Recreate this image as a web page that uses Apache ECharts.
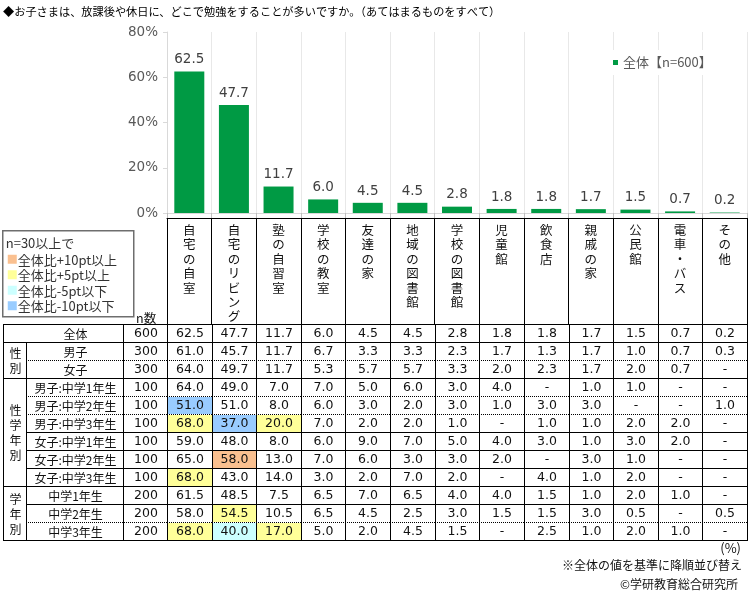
<!DOCTYPE html>
<html>
<head>
<meta charset="utf-8">
<title>放課後や休日に勉強する場所</title>
<script src="https://cdn.jsdelivr.net/npm/echarts@6/dist/echarts.min.js"></script>
<style>
html, body { margin: 0; padding: 0; background: #fff; }
#main { width: 750px; height: 602px; }
</style>
</head>
<body>
<div id="main"></div>
<script>
// 勉強する場所（全体の値で降順）
const categories = ['自宅の自室', '自宅のリビング', '塾の自習室', '学校の教室', '友達の家', '地域の図書館',
    '学校の図書館', '児童館', '飲食店', '親戚の家', '公民館', '電車・バス', 'その他'];
const overall = [62.5, 47.7, 11.7, 6.0, 4.5, 4.5, 2.8, 1.8, 1.8, 1.7, 1.5, 0.7, 0.2];

// 表の行
const rowLabels = ['全体', '男子', '女子', '男子:中学1年生', '男子:中学2年生', '男子:中学3年生',
    '女子:中学1年生', '女子:中学2年生', '女子:中学3年生', '中学1年生', '中学2年生', '中学3年生'];
const rowN = [600, 300, 300, 100, 100, 100, 100, 100, 100, 200, 200, 200];
// null は「-」
const tableRows = [
    [62.5, 47.7, 11.7, 6.0, 4.5, 4.5, 2.8, 1.8, 1.8, 1.7, 1.5, 0.7, 0.2],
    [61.0, 45.7, 11.7, 6.7, 3.3, 3.3, 2.3, 1.7, 1.3, 1.7, 1.0, 0.7, 0.3],
    [64.0, 49.7, 11.7, 5.3, 5.7, 5.7, 3.3, 2.0, 2.3, 1.7, 2.0, 0.7, null],
    [64.0, 49.0, 7.0, 7.0, 5.0, 6.0, 3.0, 4.0, null, 1.0, 1.0, null, null],
    [51.0, 51.0, 8.0, 6.0, 3.0, 2.0, 3.0, 1.0, 3.0, 3.0, null, null, 1.0],
    [68.0, 37.0, 20.0, 7.0, 2.0, 2.0, 1.0, null, 1.0, 1.0, 2.0, 2.0, null],
    [59.0, 48.0, 8.0, 6.0, 9.0, 7.0, 5.0, 4.0, 3.0, 1.0, 3.0, 2.0, null],
    [65.0, 58.0, 13.0, 7.0, 6.0, 3.0, 3.0, 2.0, null, 3.0, 1.0, null, null],
    [68.0, 43.0, 14.0, 3.0, 2.0, 7.0, 2.0, null, 4.0, 1.0, 2.0, null, null],
    [61.5, 48.5, 7.5, 6.5, 7.0, 6.5, 4.0, 4.0, 1.5, 1.0, 2.0, 1.0, null],
    [58.0, 54.5, 10.5, 6.5, 4.5, 2.5, 3.0, 1.5, 1.5, 3.0, 0.5, null, 0.5],
    [68.0, 40.0, 17.0, 5.0, 2.0, 4.5, 1.5, null, 2.5, 1.0, 2.0, 1.0, null]
];
const groupLabels = ['性別', '性学年別', '学年別'];
const groupRows = [[1, 2], [3, 8], [9, 11]];

// 凡例（色分けのルール）
const keyLabels = ['全体比+10pt以上', '全体比+5pt以上', '全体比-5pt以下', '全体比-10pt以下'];
const keyColors = ['#fac090', '#ffff99', '#ccffff', '#99ccff'];

// 各行の上罫線
const rowTopLine = ['solid', 'solid', 'dotted', 'solid', 'dotted', 'dotted',
    'solid', 'solid', 'solid', 'solid', 'solid', 'dotted'];

const FONT = '"Noto Sans CJK JP", "Noto Sans", sans-serif';
const NUM_FONT = '"DejaVu Sans", "Noto Sans CJK JP", sans-serif';

function cellColor(r, c) {
    if (r === 0 || rowN[r] < 30) return null;
    const d = (tableRows[r][c] || 0) - overall[c];
    if (d >= 10) return keyColors[0];
    if (d >= 5) return keyColors[1];
    if (d <= -10) return keyColors[3];
    if (d <= -5) return keyColors[2];
    return null;
}

function hLine(x1, x2, y, type) {
    return {
        type: 'line',
        shape: { x1: x1, y1: y + 0.5, x2: x2 + 1, y2: y + 0.5 },
        style: { stroke: '#000', lineWidth: 1, lineDash: type === 'dotted' ? [1, 1] : null }
    };
}
function vLine(x, y1, y2) {
    return {
        type: 'line',
        shape: { x1: x + 0.5, y1: y1, x2: x + 0.5, y2: y2 + 1 },
        style: { stroke: '#000', lineWidth: 1 }
    };
}

function renderCell(params, api) {
    const c = api.value(0), r = api.value(1);
    const p = api.coord([c, r]);
    const s = api.size([1, 1]);
    const L = Math.round(p[0] - s[0] / 2), R = Math.round(p[0] + s[0] / 2);
    const T = Math.round(p[1] - s[1] / 2), B = Math.round(p[1] + s[1] / 2);
    const v = tableRows[r][c];
    const children = [];
    const fill = cellColor(r, c);
    if (fill) {
        children.push({ type: 'rect', shape: { x: L + 1, y: T + 1, width: R - L - 1, height: B - T - 1 }, style: { fill: fill } });
    }
    children.push({
        type: 'text', x: (L + R) / 2 + 0.5, y: (T + B) / 2 + 1,
        style: { text: v == null ? '-' : v.toFixed(1), fill: '#111', fontSize: 12.5, fontFamily: NUM_FONT, align: 'center', verticalAlign: 'middle' }
    });
    children.push(hLine(L, R, T, rowTopLine[r]));
    children.push(vLine(L, T, B));
    if (c === categories.length - 1) children.push(vLine(R, T, B));
    if (r === tableRows.length - 1) children.push(hLine(L, R, B, 'solid'));
    return { type: 'group', children: children };
}

function renderLabel(params, api) {
    const r = api.value(1);
    const p = api.coord([0, r]);
    const s = api.size([1, 1]);
    const T = Math.round(p[1] - s[1] / 2), B = Math.round(p[1] + s[1] / 2);
    const X0 = Math.round(params.coordSys.x);
    const X1 = X0 + 23, X2 = X0 + 120, X3 = X0 + 164;
    const isGroupStart = r === 0 || groupRows.some(g => g[0] === r);
    const children = [
        { type: 'text', x: (X1 + X2) / 2 + 1, y: (T + B) / 2 + 1,
          style: { text: rowLabels[r], fill: '#111', fontSize: 12, fontFamily: FONT, align: 'center', verticalAlign: 'middle' } },
        { type: 'text', x: (X2 + X3) / 2 + 1, y: (T + B) / 2 + 1,
          style: { text: String(rowN[r]), fill: '#111', fontSize: 12.5, fontFamily: NUM_FONT, align: 'center', verticalAlign: 'middle' } },
        vLine(X0, T, B),
        vLine(X2, T, B),
        isGroupStart ? hLine(X0, X3, T, 'solid') : hLine(X1, X3, T, rowTopLine[r])
    ];
    if (r > 0) children.push(vLine(X1, T, B));
    if (r === tableRows.length - 1) children.push(hLine(X0, X3, B, 'solid'));
    return { type: 'group', children: children };
}

function renderGroup(params, api) {
    const i = params.dataIndex;
    const top = api.coord([0, api.value(1)])[1] - api.size([1, 1])[1] / 2;
    const bottom = api.coord([0, api.value(2)])[1] + api.size([1, 1])[1] / 2;
    const X0 = Math.round(params.coordSys.x);
    return {
        type: 'text', x: X0 + 12.5, y: (top + bottom) / 2 + 1,
        style: { text: groupLabels[i].split('').join('\n'), fill: '#111', fontSize: 12, lineHeight: 15,
                 fontFamily: FONT, align: 'center', verticalAlign: 'middle' }
    };
}

const cellData = [];
tableRows.forEach((row, r) => row.forEach((v, c) => cellData.push([c, r])));
const labelData = rowLabels.map((name, r) => [0, r]);
const groupData = groupRows.map(g => [0, g[0], g[1]]);

const chart = echarts.init(document.getElementById('main'));
const option = {
    animation: false,
    textStyle: { fontFamily: FONT },
    legend: {
        data: ['全体【n=600】'],
        left: 609, top: 50,
        icon: 'rect', itemWidth: 5, itemHeight: 5,
        padding: [6, 4],
        backgroundColor: '#fff',
        textStyle: { fontSize: 13, color: '#595959', fontFamily: FONT }
    },
    grid: [
        { left: 167, right: 3, top: 32, height: 181 },
        { left: 167, right: 3, top: 324, height: 216 },
        { left: 3, width: 164, top: 324, height: 216 }
    ],
    xAxis: [
        {
            gridIndex: 0, type: 'category', data: categories,
            axisLine: { lineStyle: { color: '#d9d9d9' } },
            axisTick: { show: true, interval: 0, length: 5, lineStyle: { color: '#bfbfbf' } },
            axisLabel: { show: false },
            splitLine: { show: true, interval: 0, lineStyle: { color: '#e8e8e8' } }
        },
        {
            gridIndex: 1, type: 'category', data: categories, position: 'top', offset: 106,
            axisLine: { show: true, lineStyle: { color: '#000' } },
            axisTick: { show: true, inside: true, interval: 0, length: 106, lineStyle: { color: '#000' } },
            axisLabel: {
                inside: true, interval: 0, margin: 5,
                fontSize: 12.5, lineHeight: 14.4, color: '#111', fontFamily: FONT,
                verticalAlign: 'top', align: 'center',
                formatter: name => name.split('').join('\n')
            },
            splitLine: { show: false }
        },
        { gridIndex: 2, type: 'value', min: 0, max: 1, show: false }
    ],
    yAxis: [
        {
            gridIndex: 0, type: 'value', min: 0, max: 80, interval: 20,
            axisLine: { show: true, lineStyle: { color: '#d9d9d9' } },
            axisTick: { show: true, length: 4, lineStyle: { color: '#d9d9d9' } },
            axisLabel: { formatter: '{value}%', fontSize: 13.5, color: '#595959', margin: 9, fontFamily: NUM_FONT },
            splitLine: { show: false }
        },
        { gridIndex: 1, type: 'category', data: rowLabels, inverse: true, show: false },
        { gridIndex: 2, type: 'category', data: rowLabels, inverse: true, show: false }
    ],
    series: [
        {
            name: '全体【n=600】', type: 'bar', xAxisIndex: 0, yAxisIndex: 0,
            data: overall, barWidth: 30,
            itemStyle: { color: '#009a44' },
            label: {
                show: true, position: 'top', distance: 5,
                fontSize: 13.5, color: '#404040', fontFamily: NUM_FONT,
                formatter: p => p.value.toFixed(1)
            }
        },
        { type: 'custom', xAxisIndex: 1, yAxisIndex: 1, data: cellData, renderItem: renderCell, silent: true },
        { type: 'custom', xAxisIndex: 2, yAxisIndex: 2, data: labelData, renderItem: renderLabel, silent: true },
        { type: 'custom', xAxisIndex: 2, yAxisIndex: 2, data: groupData, renderItem: renderGroup, silent: true }
    ],
    graphic: [
        {
            type: 'text', left: 3, top: 6,
            style: { text: '◆お子さまは、放課後や休日に、どこで勉強をすることが多いですか。（あてはまるものをすべて）',
                     fill: '#000', fontSize: 11.2, fontFamily: FONT }
        },
        {
            type: 'group', left: 2, top: 230,
            children: [
                { type: 'rect', shape: { x: 0, y: 0, width: 131, height: 86 },
                  style: { fill: '#fff', stroke: '#6e6e6e', lineWidth: 1.5 } },
                { type: 'text', x: 3, y: 12,
                  style: { text: 'n=30以上で', fill: '#333', fontSize: 13, fontFamily: FONT, verticalAlign: 'middle' } }
            ].concat(keyLabels.flatMap((t, i) => [
                { type: 'rect', shape: { x: 5, y: 24 + i * 15.5, width: 9, height: 9 }, style: { fill: keyColors[i] } },
                { type: 'text', x: 15, y: 29 + i * 15.5,
                  style: { text: t, fill: '#333', fontSize: 13, fontFamily: FONT, verticalAlign: 'middle' } }
            ]))
        },
        {
            type: 'text', left: 136, top: 312,
            style: { text: 'n数', fill: '#111', fontSize: 12.5, fontFamily: FONT }
        },
        {
            type: 'text', right: 9, top: 542,
            style: { text: '(%)', fill: '#111', fontSize: 13, fontFamily: FONT }
        },
        {
            type: 'text', right: 8, top: 559,
            style: { text: '※全体の値を基準に降順並び替え', fill: '#111', fontSize: 12, fontFamily: FONT }
        },
        {
            type: 'text', right: 12, top: 578,
            style: { text: '©学研教育総合研究所', fill: '#111', fontSize: 12, fontFamily: FONT }
        }
    ]
};
chart.setOption(option);
</script>
</body>
</html>
